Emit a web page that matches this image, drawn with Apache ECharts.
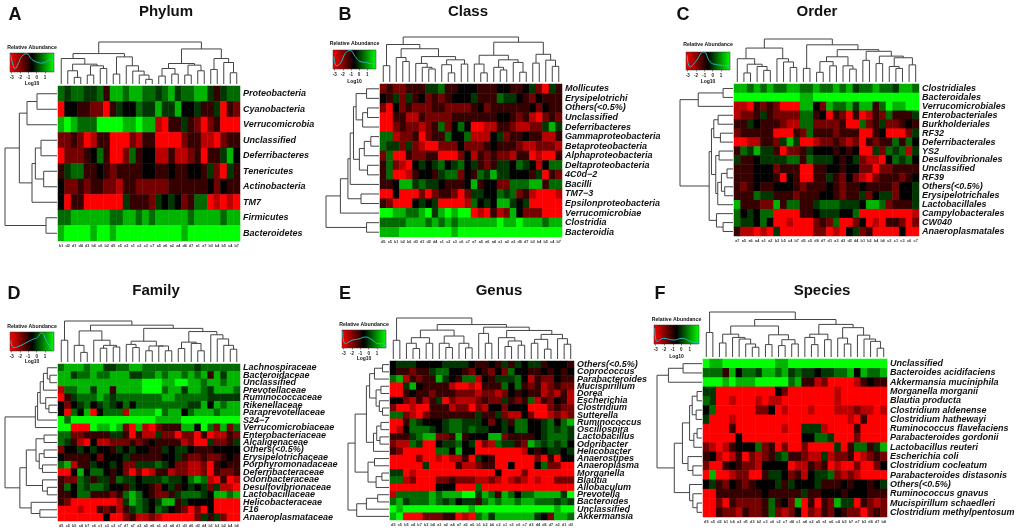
<!DOCTYPE html>
<html><head><meta charset="utf-8">
<style>html,body{margin:0;padding:0;background:#fff}#c{width:1020px;height:532px}</style>
<script src="https://cdn.jsdelivr.net/npm/echarts@6/dist/echarts.min.js"></script>
</head><body><div id="c"></div>
<script>
// Cell values: 0 = bright red, 4 = black, 8 = bright green
const phylumCols=['b1','d2','d1','d4','d3','b6','c6','b2','d5','c5','a3','c1','c2','c3','c7','a5','a6','a2','a4','d6','d7','a1','a7','b3','b4','b5','c4','b7'];
const phylumRows=['Proteobacteria','Cyanobacteria','Verrucomicrobia','Unclassified','Deferribacteres','Tenericutes','Actinobacteria','TM7','Firmicutes','Bacteroidetes'];
const phylumValues=[
[6,5,6,6,5,5,6,3,7,7,6,7,7,6,6,5,6,7,5,6,6,7,7,5,3,5,6,6],
[0,4,4,3,3,2,2,0,3,5,4,4,6,5,5,7,5,5,7,4,4,5,3,3,5,0,3,2],
[7,8,7,6,6,6,8,8,8,8,7,7,8,7,7,1,0,3,3,5,3,2,0,2,3,0,0,0],
[2,2,3,2,0,1,3,3,0,0,0,2,1,3,3,0,0,0,0,2,3,3,1,1,0,2,3,3],
[0,2,2,2,3,4,6,3,0,0,2,6,3,4,4,1,1,3,1,1,2,3,0,3,3,5,7,4],
[3,5,6,6,3,3,4,3,2,3,3,3,3,4,4,3,3,4,3,3,4,4,3,5,2,0,5,3],
[4,2,2,3,2,3,3,2,2,1,3,3,2,2,2,2,2,3,3,3,3,3,3,4,2,4,3,3],
[4,0,3,3,0,0,0,0,0,0,5,3,3,3,2,5,4,5,4,2,3,6,6,0,1,0,1,0],
[6,6,7,7,7,7,7,7,6,6,7,7,6,7,6,7,7,7,7,7,6,7,7,7,7,6,7,7],
[7,8,8,8,8,7,8,8,7,8,8,8,8,8,8,8,8,8,8,7,8,8,8,8,8,8,8,8]];
const phylumColTree=[127,[92,[77,0,[60,[40,1,[20,2,3]],[55,[27,4,5],[47,6,7]]]],[82,[30,8,9],[55,10,[39,11,[27,12,[14,13,14]]]]]],[106,[62,[47,[24,15,16],[30,17,18]],[57,[27,19,20],[40,21,22]]],[77,[44,23,24],[65,25,[34,26,27]]]]];
const phylumRowTree=[156,[113,[90,[60,0,1],2],[75,[65,[48,3,4],[40,5,6]],7]],[33,8,9]];
const phylumDensity=[[-3.12,.91],[-2.88,.45],[-2.6,.18],[-2.2,.45],[-1.8,.82],[-1.2,.96],[-.6,.67],[0,.53],[.6,.47],[1.2,.55],[1.6,.67],[2.08,.56]];

const classCols=['d5','c5','b1','b2','b6','d3','d1','d2','d4','c1','c2','c3','c6','c7','a7','a5','a6','a4','a1','a2','a3','d6','d7','b3','b4','b5','c4','b7'];
const classRows=['Mollicutes','Erysipelotrichi','Others(<0.5%)','Unclassified','Deferribacteres','Gammaproteobacteria','Betaproteobacteria','Alphaproteobacteria','Deltaproteobacteria','4C0d−2','Bacilli','TM7−3','Epsilonproteobacteria','Verrucomicrobiae','Clostridia','Bacteroidia'];
const classValues=[
[2,3,2,2,3,3,3,5,5,6,3,3,4,4,4,3,3,3,4,4,3,3,4,5,2,0,5,3],
[4,3,5,2,5,3,4,2,3,2,3,4,4,4,5,3,3,3,6,5,5,4,3,2,4,3,3,3],
[2,0,4,2,3,2,2,2,3,3,2,2,2,2,3,4,2,3,3,3,3,3,3,4,2,4,3,3],
[0,0,3,3,1,1,3,2,2,2,2,3,3,3,3,3,3,3,4,4,3,2,3,1,0,2,3,2],
[0,0,2,3,2,2,1,2,3,6,2,4,6,4,0,0,1,1,3,3,2,1,1,2,2,5,7,5],
[6,6,1,2,2,3,0,2,3,3,6,4,4,6,1,1,1,4,5,2,3,3,4,3,3,1,1,3],
[6,5,5,2,5,2,1,0,0,2,2,2,4,2,2,2,3,4,3,3,3,2,1,1,2,2,2,1],
[2,6,0,0,3,2,2,3,3,0,0,0,2,4,1,3,2,3,2,2,1,3,3,0,1,0,0,3],
[3,6,2,1,0,4,5,4,5,6,4,5,6,4,5,3,2,3,5,5,4,6,5,4,1,4,6,6],
[3,6,0,0,1,3,4,4,3,5,6,6,2,4,3,6,5,7,5,5,4,4,4,3,5,0,3,2],
[3,3,4,7,7,5,6,5,5,4,3,3,3,4,7,3,4,4,2,2,6,6,6,7,7,3,6,6],
[0,0,4,0,0,0,2,0,2,3,3,2,0,2,5,5,4,4,6,5,6,2,3,1,0,0,0,1],
[3,2,0,0,0,4,5,4,5,0,0,0,0,1,6,4,5,4,7,7,5,4,5,0,0,0,0,0],
[8,8,7,7,6,6,7,8,5,7,8,7,8,8,0,1,0,3,1,2,7,4,2,2,2,0,0,0],
[6,6,6,6,7,7,7,6,7,6,7,6,7,7,7,7,7,7,8,7,7,8,7,7,7,6,7,7],
[7,7,7,8,8,8,8,8,8,8,8,7,8,8,8,8,8,8,8,8,8,8,8,8,8,8,8,8]];
const classColTree=[138,[115,[50,0,1],[102,[75,2,[63,3,4]],[78,[57,5,[45,6,[40,7,8]]],[68,[53,9,[28,10,11]],[55,12,13]]]]],[122,[82,[55,14,[28,15,16]],[68,[45,17,[37,18,19]],[60,20,[30,21,22]]]],[85,[58,23,24],[67,25,[48,26,27]]]]];
const classRowTree=[162,[118,[95,[88,[78,[70,[38,0,1],[50,[35,2,3],4]],[60,[45,[25,5,6],7],[35,8,9]]],10],[55,11,12]],13],[38,14,15]];
const classDensity=[[-3.08,.66],[-2.76,.17],[-2.28,.31],[-1.68,.83],[-1.08,.97],[-.48,.66],[.12,.4],[.92,.34],[1.52,.28],[1.96,.34]];

const orderCols=['a7','a5','a6','a4','a1','a2','b3','b5','c4','b7','d5','c5','d6','d7','d1','a3','d3','d2','d4','b1','b2','b4','b6','c2','c1','c3','c6','c7'];
const orderRows=['Clostridiales','Bacteroidales','Verrucomicrobiales','Enterobacteriales','Burkholderiales','RF32','Deferribacterales','YS2','Desulfovibrionales','Unclassified','RF39','Others(<0.5%)','Erysipelotrichales','Lactobacillales','Campylobacterales','CW040','Anaeroplasmatales'];
const orderValues=[
[7,7,6,7,6,7,6,6,7,7,6,6,7,6,6,7,6,7,5,6,6,7,6,6,5,7,7,6],
[8,8,8,8,8,8,8,8,8,8,7,7,8,8,8,8,8,8,8,8,8,8,8,8,8,8,8,8],
[1,1,0,3,2,3,2,0,0,0,7,7,4,2,7,6,6,7,5,7,7,3,6,8,7,7,8,8],
[1,2,2,3,5,3,2,2,2,2,6,6,3,4,0,3,2,0,3,0,1,3,2,6,3,3,3,5],
[3,3,5,4,3,3,3,2,1,1,6,6,2,2,2,2,3,0,0,6,2,3,5,2,2,3,4,3],
[2,3,3,3,3,3,0,0,0,3,2,6,3,3,3,2,3,3,3,0,0,3,4,0,0,0,2,5],
[0,0,1,1,3,3,2,5,7,5,0,0,1,2,2,3,2,1,2,0,3,2,3,3,6,3,6,4],
[3,6,5,7,5,5,3,0,2,2,3,5,4,4,4,3,4,3,4,0,0,5,2,6,5,6,1,5],
[5,3,3,4,5,5,5,5,6,6,3,6,5,5,5,4,3,4,5,2,1,1,0,4,6,5,6,4],
[3,3,3,4,4,4,2,3,3,3,0,0,3,3,4,4,3,4,4,2,2,0,2,2,3,3,3,3],
[3,3,3,4,4,4,3,0,4,3,0,0,3,3,5,3,2,4,2,1,0,2,3,3,3,2,3,4],
[3,2,3,4,3,3,4,4,4,3,2,3,3,3,4,3,2,3,3,4,3,3,3,3,2,4,4,5],
[3,3,3,6,5,5,3,3,3,2,3,3,3,4,4,3,2,3,3,5,2,4,5,5,2,4,4,5],
[7,3,3,3,2,2,7,3,6,6,3,3,5,6,6,6,5,5,5,4,7,7,6,2,3,3,3,5],
[6,4,5,4,6,6,0,0,0,0,3,3,4,5,5,5,4,4,6,0,0,0,0,0,0,0,0,1],
[6,5,5,4,6,4,0,0,1,0,0,0,2,3,2,6,0,0,2,4,0,1,0,3,3,2,0,2],
[3,1,1,0,1,0,5,0,0,0,0,0,2,2,0,1,0,4,5,2,3,0,0,0,0,4,0,0]];
const orderColTree=[133,[105,[72,0,[55,[28,1,2],[48,3,[36,4,5]]]],[72,6,[62,7,[45,8,9]]]],[115,[42,10,11],[100,[78,[63,[30,12,13],[50,14,15]],[50,16,[40,17,18]]],[95,[67,19,20],[80,[57,21,22],[75,[48,23,[42,24,25]],[53,26,27]]]]]]];
const orderRowTree=[160,[105,[30,0,1],2],[72,[65,[58,[45,3,4],[38,5,6]],[52,[42,7,8],[46,[35,[18,9,10],[25,11,12]],13]]],[50,14,[30,15,16]]]];
const orderDensity=[[-3.08,.81],[-2.68,.17],[-2.08,.44],[-1.08,1],[-.28,.44],[.32,.31],[1.12,.26],[1.72,.22],[2.04,.35]];

const familyCols=['d5','c5','b5','c4','b7','c6','c1','c3','c2','c7','d7','a7','a3','a5','a6','a1','a2','a4','d1','d3','d6','d2','d4','b1','b3','b2','b4','b6'];
const familyRows=['Lachnospiraceae','Bacteroidaceae','Unclassified','Prevotellaceae','Ruminococcaceae','Rikenellaceae','Paraprevotellaceae','S24−7','Verrucomicrobiaceae','Enterobacteriaceae','Alcaligenaceae','Others(<0.5%)','Erysipelotrichaceae','Porphyromonadaceae','Deferribacteraceae','Odoribacteraceae','Desulfovibrionaceae','Lactobacillaceae','Helicobacteraceae','F16','Anaeroplasmataceae'];
const familyValues=[
[6,7,7,7,6,7,7,5,5,6,6,7,7,6,6,6,6,6,6,6,6,5,6,6,6,6,6,6],
[7,7,5,6,6,7,6,6,7,7,7,5,5,6,6,7,6,7,7,6,7,6,7,3,7,5,7,7],
[7,7,7,7,7,7,7,7,7,7,7,7,7,8,8,8,7,7,8,8,7,7,6,7,7,6,7,7],
[1,6,6,7,7,5,7,7,3,7,7,7,7,8,8,8,6,7,7,5,7,7,6,5,7,7,7,6],
[0,3,5,6,6,6,7,6,5,6,6,6,6,6,6,6,7,7,6,6,6,6,6,5,5,5,5,5],
[4,2,4,5,6,4,5,6,5,4,6,4,6,6,6,6,6,6,6,6,5,5,7,4,7,6,7,7],
[4,0,6,4,7,0,4,6,6,6,1,7,7,7,7,8,6,7,7,4,6,7,7,7,6,7,7,7],
[8,6,8,8,8,8,8,8,8,8,8,8,8,8,8,7,7,7,7,8,8,8,8,8,8,8,8,8],
[8,8,0,0,0,8,7,7,8,7,2,0,7,1,0,2,3,3,3,7,7,4,8,6,2,7,2,6],
[6,6,2,2,3,3,3,3,5,5,3,0,3,1,1,5,2,2,0,2,2,0,3,0,1,1,3,2],
[6,5,3,1,0,4,1,1,2,2,2,3,2,3,4,3,3,3,3,1,2,0,0,5,2,2,3,5],
[2,4,4,5,4,5,4,4,3,5,4,5,4,4,3,3,5,4,5,5,4,3,3,3,4,4,4,4],
[4,3,3,3,3,4,2,4,4,4,5,3,3,3,3,3,4,4,5,3,2,2,3,2,2,3,4,3],
[6,7,1,3,3,5,4,4,5,4,2,2,5,5,5,6,5,4,2,2,1,1,2,0,3,4,3,3],
[0,0,4,7,4,6,6,4,3,4,2,0,2,0,1,3,3,1,2,2,1,1,2,0,3,2,2,3],
[3,2,2,6,5,3,5,5,3,6,5,5,4,5,5,5,6,5,5,4,6,7,6,1,0,3,0,1],
[3,6,4,6,5,6,6,5,4,4,3,5,4,4,3,2,4,5,3,4,5,4,5,2,5,1,1,0],
[3,3,4,6,6,3,3,3,2,3,6,7,6,4,3,2,2,3,5,6,6,6,5,4,7,7,6,7],
[3,2,0,0,0,0,0,0,0,1,5,7,6,5,4,5,7,7,3,5,4,4,4,4,0,0,0,0],
[0,0,0,1,0,0,3,2,3,1,3,5,6,5,4,6,5,4,3,2,0,2,0,4,0,0,0,0],
[0,0,0,0,0,0,0,4,0,0,2,3,1,1,2,1,0,0,0,0,0,2,5,3,5,2,0,0]];
const familyColTree=[128,[68,0,1],[115,[97,[52,2,[30,3,4]],[68,5,[52,[43,6,7],[47,8,9]]]],[105,[65,[55,10,[45,11,12]],[50,[35,13,14],[50,15,[35,16,17]]]],[95,[62,[42,18,19],[58,20,[35,21,22]]],[85,23,[72,24,[52,25,[40,26,27]]]]]]]];
const familyRowTree=[161,[67,[60,[52,[42,[30,0,[22,1,2]],3],[35,4,[25,5,6]]],7],8],[115,[95,[65,[40,9,10],[55,[40,11,12],[45,13,14]]],[45,15,[30,16,17]]],[80,18,[53,19,20]]]];
const familyDensity=[[-3.12,.55],[-2.72,.18],[-2,.27],[-1.2,.45],[-.4,.63],[0,.68],[.6,.95],[1.2,.5],[1.8,.14],[2.08,.05]];

const genusCols=['d5','c5','b5','c4','b7','b3','b4','a1','a2','a4','a7','a5','a6','b1','b2','b6','c2','c1','c3','c6','c7','d2','d4','d6','d7','a3','d1','d3'];
const genusRows=['Others(<0.5%)','Coprococcus','Parabacteroides','Mucispirillum','Dorea','Escherichia','Clostridium','Sutterella','Ruminococcus','Oscillospira','Lactobacillus','Odoribacter','Helicobacter','Anaerostipes','Anaeroplasma','Morganella','Blautia','Allobaculum','Prevotella','Bacteroides','Unclassified','Akkermansia'];
const genusValues=[
[4,5,5,5,4,4,4,4,5,5,5,5,4,3,3,4,3,5,3,5,4,5,5,3,4,4,4,3],
[4,3,3,2,3,3,5,6,6,4,4,3,2,4,3,2,4,2,6,4,4,3,3,4,3,4,3,4],
[6,7,1,3,2,3,3,7,5,4,3,6,6,1,4,3,5,5,5,6,4,1,3,2,2,4,3,3],
[0,0,5,7,4,3,3,3,3,1,0,0,1,0,3,3,3,6,4,6,3,2,3,1,2,3,2,2],
[0,0,3,4,3,3,2,3,3,3,2,2,2,1,2,2,1,2,4,3,4,3,3,1,2,1,3,1],
[4,4,2,1,3,1,3,5,0,2,1,1,1,2,3,2,2,5,3,2,3,6,1,3,2,4,3,1],
[2,0,0,1,0,0,3,3,3,1,2,2,0,2,1,4,4,2,4,4,4,0,0,0,2,3,2,2],
[6,6,2,1,0,2,3,3,3,3,3,3,3,5,3,3,5,2,1,1,4,2,0,0,1,2,1,2],
[0,0,3,6,5,4,4,4,5,6,6,5,5,5,4,2,4,5,3,6,6,4,4,5,6,4,6,7],
[0,1,4,6,6,6,5,4,5,6,6,5,6,5,5,4,4,5,4,6,6,4,4,5,6,5,6,5],
[3,3,3,5,6,7,7,2,2,3,7,3,4,4,4,7,7,2,3,3,3,3,4,5,6,6,6,5],
[2,1,1,6,5,0,0,4,5,5,6,4,5,0,2,1,6,5,5,3,2,7,6,5,6,5,6,4],
[3,2,0,0,0,0,0,6,6,4,7,4,4,0,0,0,0,0,0,0,1,4,3,4,5,5,4,5],
[0,0,0,0,2,0,0,1,0,1,1,3,0,5,4,3,0,0,0,0,0,0,2,0,3,0,4,4],
[0,0,0,0,0,5,0,0,0,0,3,1,1,2,3,3,0,0,4,0,0,0,4,6,2,2,0,0],
[5,5,0,1,0,0,0,0,0,0,0,0,0,0,0,0,4,0,0,0,2,0,0,0,0,0,0,0],
[6,6,1,2,0,0,0,2,2,3,2,2,2,1,1,2,1,0,1,2,1,0,1,0,0,2,2,2],
[0,0,0,0,0,0,0,4,4,4,0,0,0,6,0,0,0,0,0,0,0,0,0,0,0,0,0,0],
[1,6,6,6,6,6,7,6,7,7,7,8,8,5,7,6,3,7,6,4,6,6,7,7,7,7,5,8],
[6,7,5,6,6,6,7,6,5,6,4,5,5,3,6,7,6,7,7,6,7,7,6,6,6,5,6,5],
[8,7,8,8,8,8,8,8,8,8,8,8,7,8,8,8,8,8,8,8,8,8,8,8,8,7,8,8],
[7,8,0,0,0,2,2,2,3,3,0,1,0,6,7,5,7,7,7,7,7,7,5,4,2,7,7,6]];
const genusColTree=[125,[57,0,1],[105,[88,[65,[48,2,[32,3,4]],[48,5,6]],[70,[48,7,[35,8,9]],[48,10,[34,11,12]]]],[97,[78,13,[48,14,15]],[87,[65,16,[55,[38,17,18],[42,19,20]]],[75,[60,[48,21,22],[30,23,24]],[62,25,[45,26,27]]]]]]];
const genusRowTree=[127,[105,[70,[60,[45,[20,0,1],2],[40,[25,3,4],[30,5,[20,6,7]]]],[48,[38,[25,8,9],[28,10,11]],12]],[65,[45,13,14],[40,[22,15,16],17]]],[100,[70,[35,18,19],20],21]];
const genusDensity=[[-3.12,.93],[-2.8,.24],[-2,.43],[-1.2,.5],[-.4,.61],[.4,.46],[1.2,.24],[1.8,.24],[2.08,.09]];

const speciesCols=['d5','c5','d2','b1','b6','a3','d1','d3','b2','c3','c6','c2','c7','d4','c1','a4','a2','a5','a1','a6','c4','b5','b7','a7','b3','d6','d7','b4'];
const speciesRows=['Unclassified','Bacteroides acidifaciens','Akkermansia muciniphila','Morganella morganii','Blautia producta','Clostridium aldenense','Clostridium hathewayi','Ruminococcus flavefaciens','Parabacteroides gordonii','Lactobacillus reuteri','Escherichia coli','Clostridium cocleatum','Parabacteroides distasonis','Others(<0.5%)','Ruminococcus gnavus','Mucispirillum schaedleri','Clostridium methylpentosum'];
const speciesValues=[
[8,7,7,8,8,8,8,8,8,8,8,7,7,8,8,8,8,8,8,8,8,8,8,8,8,8,8,8],
[6,6,6,3,7,4,6,6,5,7,7,6,7,5,6,5,5,4,5,5,6,6,7,4,7,6,6,7],
[8,8,8,7,8,7,7,7,8,8,8,8,8,6,7,3,3,1,2,0,0,0,0,1,3,4,3,3],
[5,5,0,0,0,0,0,0,0,0,0,4,2,0,0,0,0,0,0,0,1,0,0,0,0,0,0,0],
[6,5,0,0,1,0,0,0,1,0,1,1,0,0,0,0,0,0,0,0,1,0,0,0,0,0,0,0],
[4,6,0,0,0,0,0,0,2,2,4,0,1,0,0,0,1,0,0,0,1,1,1,2,1,1,0,1],
[5,0,0,0,1,0,0,0,0,0,0,0,0,0,0,0,0,0,0,0,0,0,1,0,3,0,0,0],
[0,0,0,0,3,0,0,0,0,0,0,0,1,0,0,5,5,5,1,0,0,0,0,3,0,0,0,0],
[0,0,0,0,0,4,0,0,0,0,0,0,0,0,0,4,4,6,6,5,0,0,0,2,0,0,0,0],
[2,1,0,1,3,4,4,4,6,2,3,0,2,0,0,2,0,0,0,0,5,0,3,6,6,3,5,7],
[3,4,1,0,1,3,0,2,1,2,3,5,6,3,3,2,1,1,5,1,2,2,3,0,1,2,3,2],
[2,0,0,3,4,3,2,2,1,4,4,4,4,0,1,1,3,2,3,0,1,0,0,2,0,0,2,4],
[0,7,0,0,1,2,2,0,0,3,5,5,4,2,3,1,4,5,5,6,2,1,2,1,0,0,0,0],
[4,5,3,2,4,3,2,3,4,4,4,5,3,5,4,4,4,5,3,3,3,4,3,4,4,3,4,5],
[0,0,3,3,3,3,3,3,3,4,3,3,3,3,3,5,3,3,4,4,4,3,4,4,4,3,3,3],
[0,0,2,0,3,2,2,2,2,3,6,3,4,2,7,0,3,0,3,2,7,5,5,0,3,2,1,2],
[0,0,3,2,2,1,3,2,2,3,6,2,1,2,4,0,2,1,3,2,4,3,2,2,0,2,3,2]];
const speciesColTree=[138,[75,0,1],[115,[95,[70,[43,2,3],[60,4,[55,5,[40,6,[30,7,8]]]]],[68,[38,9,10],[53,[35,11,12],[40,13,14]]]],[100,[70,[60,15,[38,16,17]],[53,18,19]],[90,[58,20,[40,21,22]],[67,23,[55,24,[48,25,[27,26,27]]]]]]]];
const speciesRowTree=[138,[103,[58,0,1],2],[85,[60,[38,[30,[15,3,4],[18,5,6]],[25,[15,7,8],9]],[43,10,[28,11,12]]],[38,13,[28,14,[15,15,16]]]]];
const speciesDensity=[[-3.12,.84],[-2.8,.13],[-2.08,.3],[-.88,.21],[.12,.3],[1.12,.13],[2.08,.07]];

const keyTicks=[-3,-2,-1,0,1];
const cellColors=['#ff0000','#b80000','#740000','#360000','#000000','#003600','#006a00','#00b400','#00ff00'];

// Layout (pixels): heat=[left,top,width,height], key=[left,top,width,height]
const panels=[
{name:'Phylum',letter:'A',cols:phylumCols,rows:phylumRows,values:phylumValues,colTree:phylumColTree,rowTree:phylumRowTree,density:phylumDensity,heat:[58,86,182,155],colTop:42,rowLeft:5,key:[10,53,44,19],titleX:166,titleY:10,letterX:15,letterY:13,keyTitleY:47,log10Y:83},
{name:'Class',letter:'B',cols:classCols,rows:classRows,values:classValues,colTree:classColTree,rowTree:classRowTree,density:classDensity,heat:[380,84,182,153],colTop:37,rowLeft:326,key:[333,50,43,19],titleX:468,titleY:10,letterX:345,letterY:13,keyTitleY:43,log10Y:81},
{name:'Order',letter:'C',cols:orderCols,rows:orderRows,values:orderValues,colTree:orderColTree,rowTree:orderRowTree,density:orderDensity,heat:[734,84,185,152],colTop:39,rowLeft:680,key:[686,52,44,18],titleX:817,titleY:10,letterX:683,letterY:13,keyTitleY:44,log10Y:81},
{name:'Family',letter:'D',cols:familyCols,rows:familyRows,values:familyValues,colTree:familyColTree,rowTree:familyRowTree,density:familyDensity,heat:[58,364,182,157],colTop:321,rowLeft:5,key:[10,332,44,19],titleX:156,titleY:289,letterX:14,letterY:292,keyTitleY:326,log10Y:361},
{name:'Genus',letter:'E',cols:genusCols,rows:genusRows,values:genusValues,colTree:genusColTree,rowTree:genusRowTree,density:genusDensity,heat:[390,361,184,159],colTop:318,rowLeft:348,key:[342,330,44,18],titleX:499,titleY:289,letterX:345,letterY:292,keyTitleY:324,log10Y:358},
{name:'Species',letter:'F',cols:speciesCols,rows:speciesRows,values:speciesValues,colTree:speciesColTree,rowTree:speciesRowTree,density:speciesDensity,heat:[703,359,184,158],colTop:312,rowLeft:657,key:[654,325,45,19],titleX:822,titleY:289,letterX:660,letterY:292,keyTitleY:319,log10Y:356}
];

function flatten(tree){
  const segs=[];
  (function walk(n){
    if(typeof n==='number') return {pos:n+0.5,h:0};
    const a=walk(n[1]),b=walk(n[2]);
    segs.push([a.pos,a.h,a.pos,n[0]],[a.pos,n[0],b.pos,n[0]],[b.pos,n[0],b.pos,b.h]);
    return {pos:(a.pos+b.pos)/2,h:n[0]};
  })(tree);
  return segs;
}
const FONT='"Liberation Sans",Arial,sans-serif';
const grids=[],xAxes=[],yAxes=[],series=[],titles=[],heatIdx=[];
const hiddenVal=(min,max,inv,gi)=>({type:'value',gridIndex:gi,min,max,inverse:!!inv,show:false});
function addText(text,x,y,size,color){
  titles.push({text,left:x,top:y-size*0.5,textAlign:'center',textStyle:{fontFamily:FONT,fontWeight:'bold',fontSize:size,color:color||'#111',lineHeight:size*1.2},padding:0});
}
panels.forEach(p=>{
  const [hx,hy,hw,hh]=p.heat;
  // heat map
  let gi=grids.length;
  grids.push({left:hx,top:hy,width:hw,height:hh,containLabel:false});
  xAxes.push({type:'category',gridIndex:gi,data:p.cols,axisLine:{show:false},axisTick:{show:false},splitLine:{show:false},
    axisLabel:{interval:0,fontSize:3.8,fontFamily:FONT,fontWeight:'bold',color:'#333',margin:3,hideOverlap:false}});
  yAxes.push({type:'category',gridIndex:gi,data:p.rows,inverse:true,position:'right',axisLine:{show:false},axisTick:{show:false},splitLine:{show:false},
    axisLabel:{interval:0,fontSize:9,fontFamily:FONT,fontWeight:'bold',fontStyle:'italic',color:'#111',margin:3,hideOverlap:false}});
  const data=[];
  p.values.forEach((r,y)=>r.forEach((v,x)=>data.push([x,y,v])));
  heatIdx.push(series.length);
  series.push({type:'heatmap',xAxisIndex:gi,yAxisIndex:gi,data,silent:true,animation:false,progressive:0,itemStyle:{borderWidth:0}});
  // column dendrogram
  gi=grids.length;
  grids.push({left:hx,top:p.colTop,width:hw,height:hy-2-p.colTop});
  xAxes.push(hiddenVal(0,p.cols.length,false,gi));
  yAxes.push(hiddenVal(0,p.colTree[0],false,gi));
  series.push({type:'custom',xAxisIndex:gi,yAxisIndex:gi,silent:true,animation:false,clip:false,data:flatten(p.colTree),encode:{x:[0,2],y:[1,3]},
    renderItem:(params,api)=>{const a=api.coord([api.value(0),api.value(1)]),b=api.coord([api.value(2),api.value(3)]);
      return {type:'line',shape:{x1:a[0],y1:a[1],x2:b[0],y2:b[1]},style:{stroke:'#444',lineWidth:1}};}});
  // row dendrogram
  gi=grids.length;
  grids.push({left:p.rowLeft,top:hy,width:hx-1-p.rowLeft,height:hh});
  xAxes.push(hiddenVal(0,p.rowTree[0],true,gi));
  yAxes.push(hiddenVal(0,p.rows.length,true,gi));
  series.push({type:'custom',xAxisIndex:gi,yAxisIndex:gi,silent:true,animation:false,clip:false,data:flatten(p.rowTree),encode:{x:[1,3],y:[0,2]},
    renderItem:(params,api)=>{const a=api.coord([api.value(1),api.value(0)]),b=api.coord([api.value(3),api.value(2)]);
      return {type:'line',shape:{x1:a[0],y1:a[1],x2:b[0],y2:b[1]},style:{stroke:'#444',lineWidth:1}};}});
  // colour key
  gi=grids.length;
  const [kx,ky,kw,kh]=p.key;
  grids.push({left:kx,top:ky,width:kw,height:kh});
  xAxes.push({type:'value',gridIndex:gi,min:-3.2,max:2.08,splitLine:{show:false},axisLine:{show:false},
    axisTick:{show:true,length:1.5,lineStyle:{color:'#333',width:0.6},customValues:keyTicks},
    axisLabel:{fontSize:4.5,fontFamily:FONT,fontWeight:'bold',color:'#222',margin:3,customValues:keyTicks,formatter:v=>String(v)}});
  yAxes.push(hiddenVal(0,1,false,gi));
  series.push({type:'custom',xAxisIndex:gi,yAxisIndex:gi,silent:true,animation:false,clip:false,data:[[-3.2,0,2.08,1]],encode:{x:[0,2],y:[1,3]},
    renderItem:(params,api)=>{const a=api.coord([api.value(0),api.value(1)]),b=api.coord([api.value(2),api.value(3)]);
      return {type:'rect',shape:{x:a[0],y:b[1],width:b[0]-a[0],height:a[1]-b[1]},
        style:{stroke:'#333',lineWidth:0.5,fill:new echarts.graphic.LinearGradient(0,0,1,0,[{offset:0,color:'#ff0000'},{offset:0.5,color:'#000000'},{offset:1,color:'#00ff00'}])}};}});
  series.push({type:'line',xAxisIndex:gi,yAxisIndex:gi,silent:true,animation:false,smooth:0.5,symbol:'none',data:p.density,lineStyle:{color:'#27b8c4',width:1},z:5});
  // text
  addText(p.name,p.titleX,p.titleY,15);
  addText(p.letter,p.letterX,p.letterY,18);
  addText('Relative Abundance',kx+kw/2,p.keyTitleY,5.2);
  addText('Log10',kx+kw/2,p.log10Y,5);
});
const chart=echarts.init(document.getElementById('c'),null,{renderer:'canvas',width:1020,height:532});
chart.setOption({animation:false,backgroundColor:'#fff',title:titles,grid:grids,xAxis:xAxes,yAxis:yAxes,
  visualMap:[{type:'continuous',show:false,min:0,max:8,seriesIndex:heatIdx,dimension:2,inRange:{color:cellColors}}],
  series});
</script></body></html>
